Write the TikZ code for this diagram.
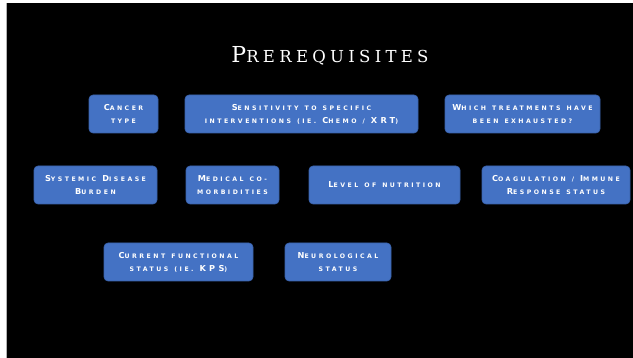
\documentclass[tikz,border=0pt]{standalone}
\usepackage{fontspec}
\newfontfamily\boxfont{DejaVu Sans}[LetterSpace=40,WordSpace=1.3]
\newfontfamily\ttlfont{DejaVu Serif}[LetterSpace=26]
\definecolor{boxblue}{HTML}{4472C4}
\definecolor{boxedge}{HTML}{3A62AA}
\newcommand\U[1]{{\fontsize{8.2}{13}\selectfont #1}}
\newcommand\T[1]{{\fontsize{22}{26}\selectfont #1}}
\tikzset{
  pbox/.style={draw=boxedge, line width=0.6pt, fill=boxblue, rounded corners=4pt,
    text=white, align=center, minimum height=38pt, inner sep=0pt,
    font=\boxfont\bfseries\fontsize{6.2}{13}\selectfont},
  ttl/.style={text=white, inner sep=0pt, font=\ttlfont\fontsize{16.5}{20}\selectfont}
}
\begin{document}
\begin{tikzpicture}[x=1pt,y=-1pt]
\useasboundingbox (0,0) rectangle (633,358);
\fill[white] (0,0) rectangle (633,358);
\fill[black] (6.5,3.5) rectangle (633,358);
\draw[gray!60, line width=0.6pt] (6.2,3.5) -- (6.2,358);
\node[ttl, anchor=base] (title) at (330,63) {\T{P}REREQUISITES};
% row 1
\node[pbox, minimum width=69pt] (cancer) at (123.5,114) {\U{C}ANCER\\TYPE};
\node[pbox, minimum width=233pt] (sens) at (301.5,114) {\U{S}ENSITIVITY TO SPECIFIC\\INTERVENTIONS (IE. \U{C}HEMO / \U{XRT})};
\node[pbox, minimum width=155pt] (which) at (522.5,114) {\U{W}HICH TREATMENTS HAVE\\BEEN EXHAUSTED?};
% row 2
\node[pbox, minimum width=123pt] (sys) at (95.5,185) {\U{S}YSTEMIC \U{D}ISEASE\\\U{B}URDEN};
\node[pbox, minimum width=93pt] (med) at (232.5,185) {\U{M}EDICAL CO-\\MORBIDITIES};
\node[pbox, minimum width=151pt] (level) at (384.5,185) {\U{L}EVEL OF NUTRITION};
\node[pbox, minimum width=148pt] (coag) at (556,185) {\U{C}OAGULATION / \U{I}MMUNE\\\U{R}ESPONSE STATUS};
% row 3
\node[pbox, minimum width=149pt] (curr) at (178.5,262) {\U{C}URRENT FUNCTIONAL\\STATUS (IE. \U{KPS})};
\node[pbox, minimum width=106pt] (neuro) at (338,262) {\U{N}EUROLOGICAL\\STATUS};
\end{tikzpicture}
\end{document}
